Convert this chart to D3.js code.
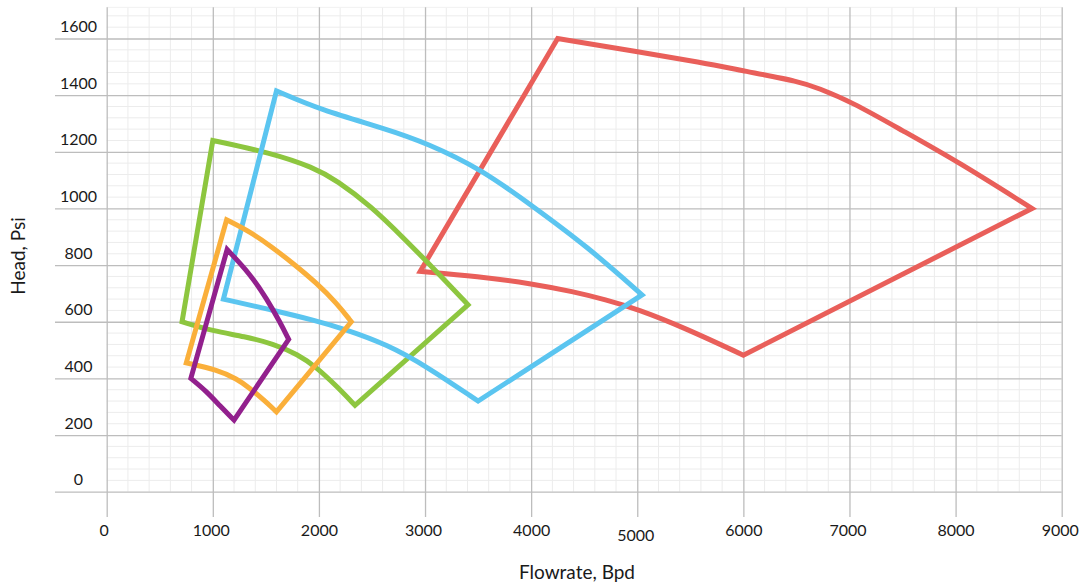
<!DOCTYPE html>
<html>
<head>
<meta charset="utf-8">
<script src="https://cdn.jsdelivr.net/npm/d3@7"></script>
<style>
  html, body { margin: 0; padding: 0; background: #ffffff; }
  svg { display: block; font-family: Lato, "Open Sans", sans-serif; }
</style>
</head>
<body>
<svg id="chart" width="1079" height="586"></svg>
<script>
// ---- data (Flowrate in Bpd, Head in Psi) ----
const xTicks = [0, 1000, 2000, 3000, 4000, 5000, 6000, 7000, 8000, 9000];
const yTicks = [0, 200, 400, 600, 800, 1000, 1200, 1400, 1600];
const xTitle = "Flowrate, Bpd";
const yTitle = "Head, Psi";

// each envelope: list of sides, each side a list of [flowrate, head] points
const redEnvelope = [
  [[2955, 778], [4250, 1600]],
  [[4250, 1600], [5000, 1553], [5600, 1516], [6009, 1485], [6544, 1447], [6700, 1425], [7017, 1377], [7489, 1277], [8023, 1165], [8720, 1000]],
  [[8720, 1000], [6000, 482]],
  [[6000, 482], [5450, 578], [5000, 645], [4700, 678], [4400, 706], [4000, 735], [3500, 760], [2955, 778]]
];
const blueEnvelope = [
  [[1100, 680], [1600, 1415]],
  [[1600, 1415], [2013, 1348], [2643, 1280], [3021, 1230], [3524, 1140], [4000, 1012], [4531, 865], [5045, 695]],
  [[5045, 695], [3500, 320]],
  [[3500, 320], [3021, 441], [2643, 520], [2233, 575], [1982, 603], [1544, 643], [1100, 680]]
];
const greenEnvelope = [
  [[710, 600], [1000, 1240]],
  [[1000, 1240], [1541, 1197], [1950, 1145], [2171, 1098], [2485, 1010], [2800, 895], [3115, 775], [3405, 660]],
  [[3405, 660], [2340, 305]],
  [[2340, 305], [2171, 371], [1982, 438], [1800, 485], [1570, 522], [1300, 548], [1000, 567], [710, 600]]
];
const orangeEnvelope = [
  [[750, 455], [1130, 960]],
  [[1130, 960], [1350, 918], [1550, 866], [1750, 808], [1980, 736], [2170, 665], [2305, 600]],
  [[2305, 600], [1600, 282]],
  [[1600, 282], [1480, 324], [1350, 365], [1230, 398], [1040, 430], [750, 455]]
];
const purpleEnvelope = [
  [[793, 400], [1135, 855]],
  [[1135, 855], [1353, 768], [1510, 680], [1636, 597], [1715, 538]],
  [[1715, 538], [1200, 253]],
  [[1200, 253], [1069, 302], [944, 353], [793, 400]]
];
const envelopes = [redEnvelope, greenEnvelope, blueEnvelope, orangeEnvelope, purpleEnvelope];
const colors = ["#E95F5A", "#8DC63F", "#5BC5F0", "#FAAF3A", "#92208D"];

// ---- layout ----
const svg = d3.select("#chart");
const plotLeft = 106.7, plotRight = 1061.7;
const x = d3.scaleLinear().domain([0, 9000]).range([plotLeft, plotRight]);
const y = d3.scaleLinear().domain([0, 1600]).range([491.7, 38.5]);
const yTop = 1710;
const tickLeft = 55;
const tickBottom = 517;

// minor grid
const g = svg.append("g");
const xMinor = d3.range(0, 9001, 200).filter(v => v % 1000 !== 0);
const yMinor = d3.range(40, 1720, 40).filter(v => v % 200 !== 0);
g.selectAll(".vminor").data(xMinor).join("line")
  .attr("x1", d => x(d)).attr("x2", d => x(d))
  .attr("y1", y(0)).attr("y2", y(yTop))
  .attr("stroke", "#ececec").attr("stroke-width", 1);
g.selectAll(".hminor").data(yMinor).join("line")
  .attr("x1", plotLeft).attr("x2", plotRight)
  .attr("y1", d => y(d)).attr("y2", d => y(d))
  .attr("stroke", "#ececec").attr("stroke-width", 1);
g.append("line").attr("x1", plotLeft).attr("x2", plotRight)
  .attr("y1", y(yTop)).attr("y2", y(yTop)).attr("stroke", "#f1f1f1");

// y axis (major horizontal lines extend left as ticks)
const yAxis = d3.axisLeft(y).tickValues(yTicks).tickFormat(d3.format("d"))
  .tickSize(-(plotRight - tickLeft)).tickPadding(0);
const yg = svg.append("g").attr("transform", `translate(${tickLeft},0)`).call(yAxis);
yg.select(".domain").remove();
yg.selectAll(".tick line").attr("stroke", "#bdbdbd").attr("stroke-width", 1.3);
yg.selectAll(".tick text")
  .attr("x", 78.5 - tickLeft).attr("dy", 0).attr("y", -7)
  .attr("text-anchor", "middle").attr("fill", "#1a1a1a")
  .style("font-size", "16px").style("font-family", "Lato, sans-serif");

// x axis (major vertical lines extend downward as ticks)
const topY = y(yTop);
const xAxis = d3.axisBottom(x).tickValues(xTicks).tickFormat(d3.format("d"))
  .tickSize(tickBottom - topY).tickPadding(0);
const xg = svg.append("g").attr("transform", `translate(0,${topY})`).call(xAxis);
xg.select(".domain").remove();
xg.selectAll(".tick line").attr("stroke", "#bdbdbd").attr("stroke-width", 1.3);
xg.selectAll(".tick text")
  .attr("dy", 0).attr("y", d => (d === 5000 ? 541.5 : 536) - topY)
  .attr("x", d => d === 0 ? -3 : (d % 2000 === 1000 ? -2 : 0))
  .attr("text-anchor", "middle").attr("fill", "#1a1a1a")
  .style("font-size", "16px").style("font-family", "Lato, sans-serif");

// axis titles
svg.append("text").attr("x", 577).attr("y", 579).attr("text-anchor", "middle")
  .attr("fill", "#1a1a1a").style("font-size", "19px").text(xTitle);
svg.append("text").attr("transform", "translate(25,256) rotate(-90)")
  .attr("text-anchor", "middle").attr("fill", "#1a1a1a").style("font-size", "19px").text(yTitle);

// envelopes
const line = d3.line().x(d => x(d[0])).y(d => y(d[1])).curve(d3.curveBasis);
const pathFor = sides => sides.map((s, i) => {
  const p = line(s);
  return i ? p.replace(/^M/, "L") : p;
}).join("") + "Z";

svg.append("g").selectAll("path").data(envelopes).join("path")
  .attr("d", pathFor)
  .attr("fill", "none")
  .attr("stroke", (d, i) => colors[i])
  .attr("stroke-width", 5)
  .attr("stroke-linejoin", "miter")
  .attr("stroke-miterlimit", 6);
</script>
</body>
</html>
